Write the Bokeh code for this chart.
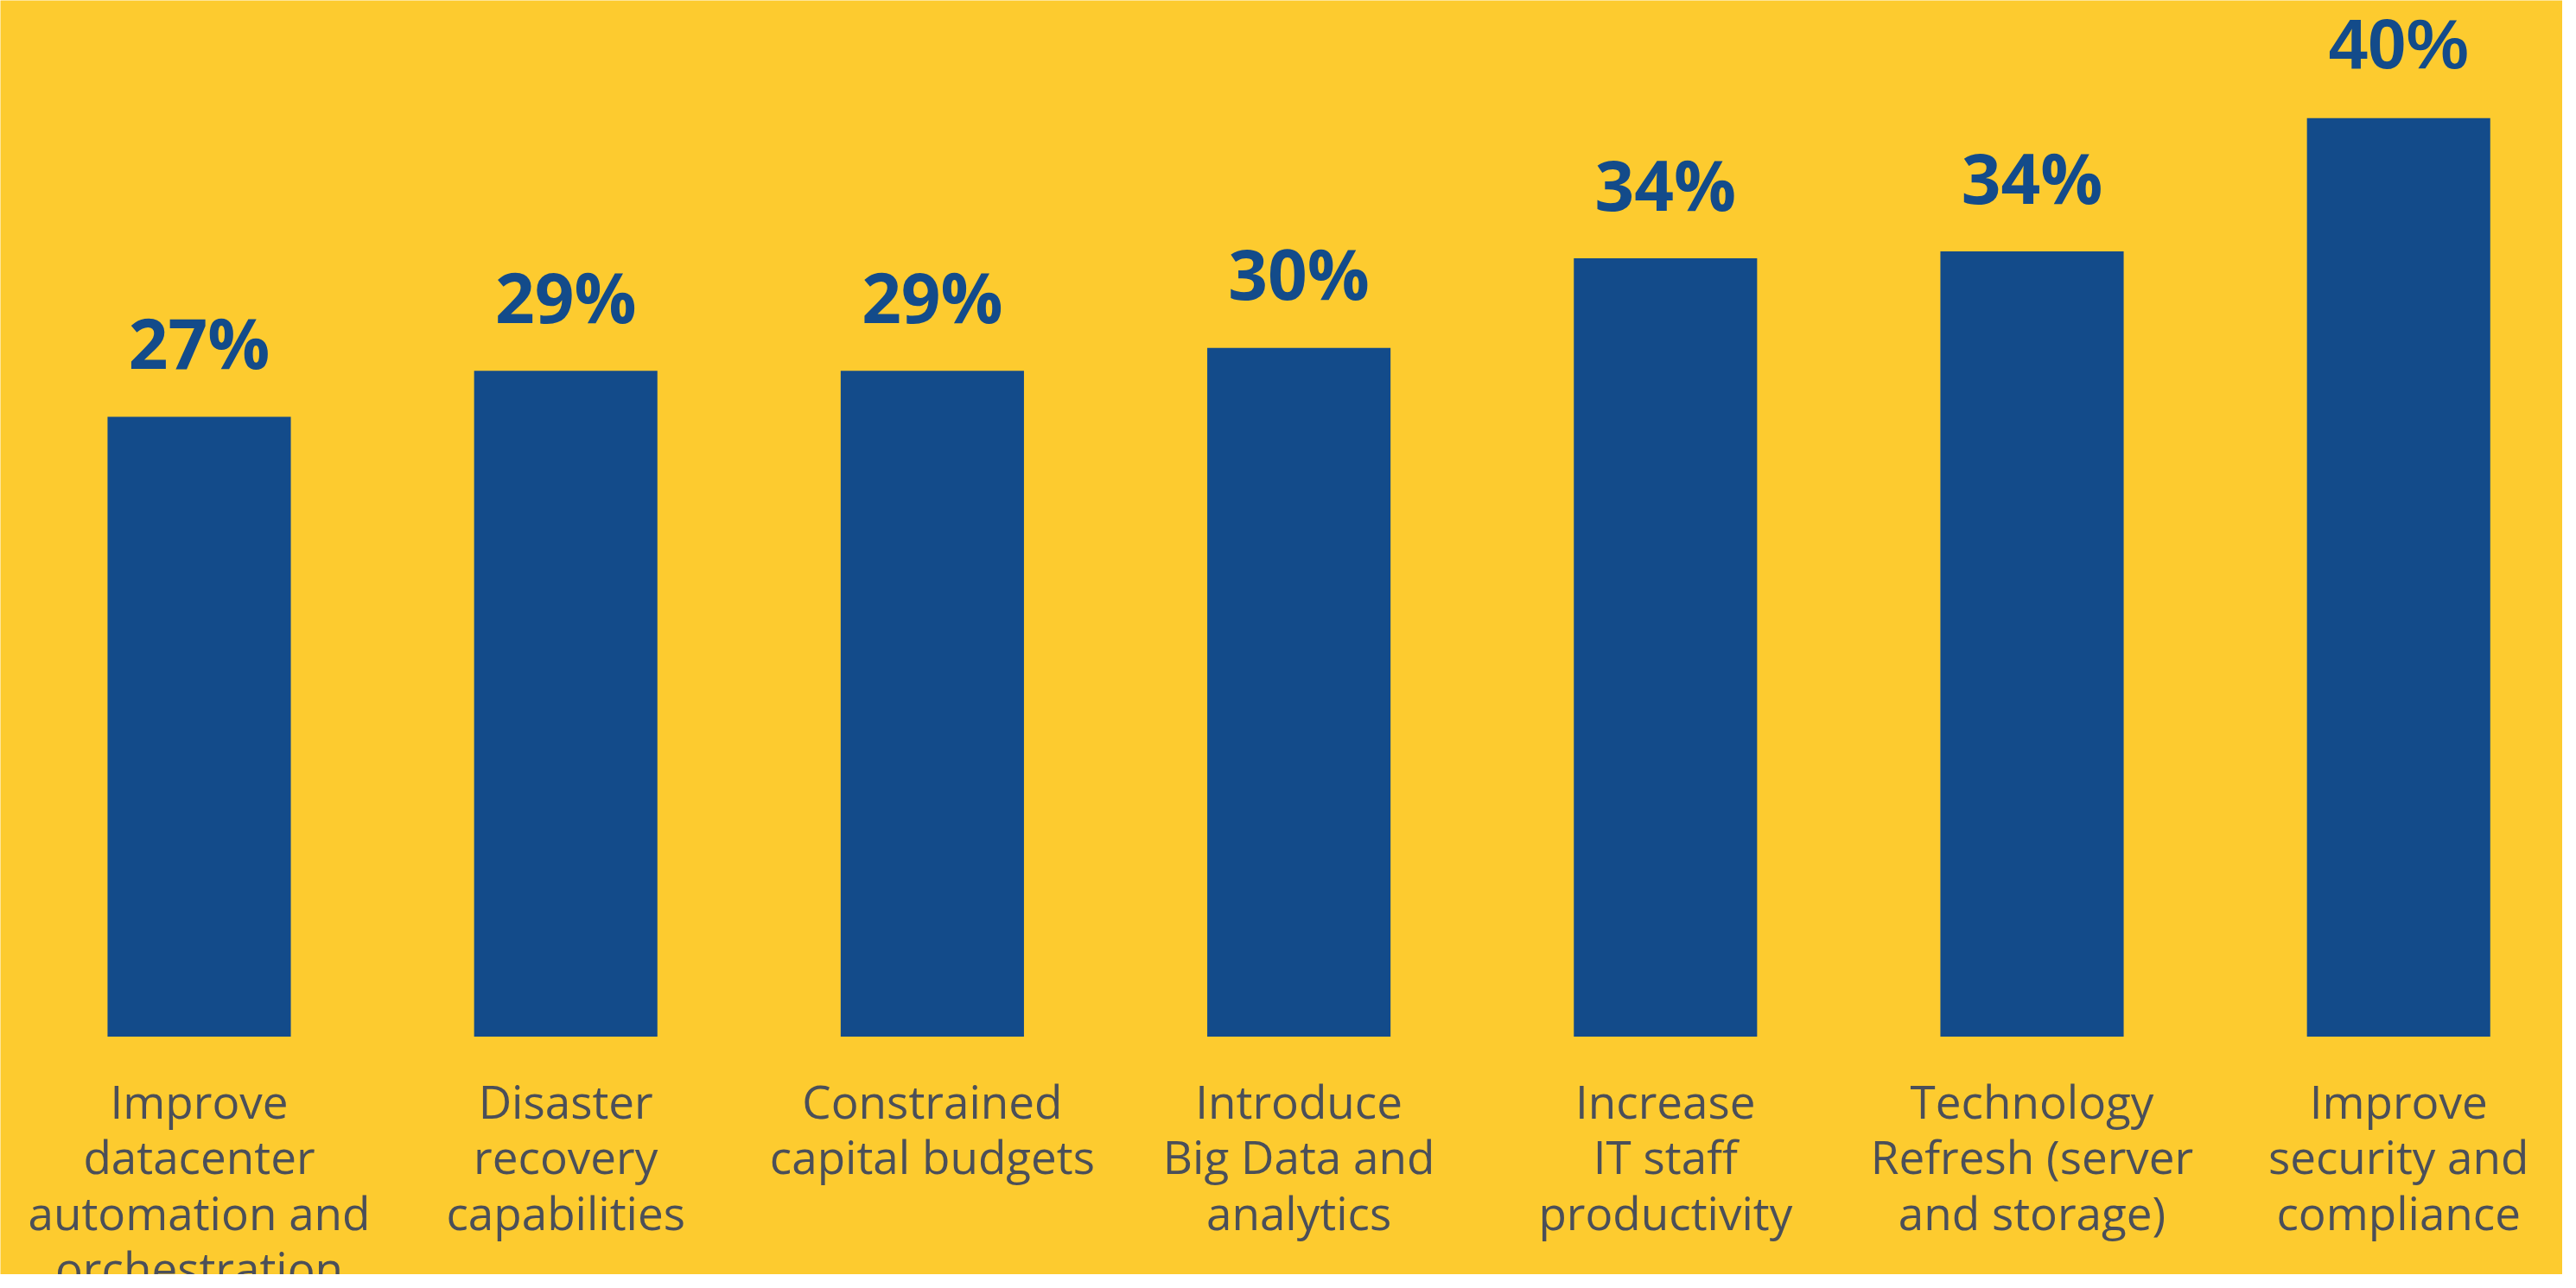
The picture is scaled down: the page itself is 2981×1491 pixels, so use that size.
from bokeh.plotting import figure
from bokeh.models import ColumnDataSource, Range1d, CDSView, IndexFilter
from bokeh.core.properties import value
from bokeh.embed import file_html
from bokeh.resources import INLINE

categories = [
    "Improve\ndatacenter\nautomation and\norchestration",
    "Disaster\nrecovery\ncapabilities",
    "Constrained\ncapital budgets",
    "Introduce\nBig Data and\nanalytics",
    "Increase\nIT staff\nproductivity",
    "Technology\nRefresh (server\nand storage)",
    "Improve\nsecurity and\ncompliance",
]
values = [27, 29, 29, 30, 33.9, 34.2, 40]
value_labels = ["27%", "29%", "29%", "30%", "34%", "34%", "40%"]

BG = "#FDCB2F"
BAR = "#134B8A"
TXT = "#4B4F59"

W, H = 2965, 1475

n = len(categories)
src = ColumnDataSource(dict(
    x=list(range(n)),
    value=values,
    label=value_labels,
    cat=categories,
    zero=[0] * n,
))

p = figure(
    width=W, height=H,
    output_backend="svg", toolbar_location=None,
    x_range=Range1d(-0.5422, 6.4474),
    y_range=Range1d(-10.36, 45.13),
    x_axis_location=None, y_axis_location=None,
    min_border=0,
)
p.background_fill_color = BG
p.border_fill_color = BG
p.outline_line_color = None
p.grid.visible = False

p.vbar(x="x", top="value", bottom=0, width=0.5, source=src,
       fill_color=BAR, line_color=None)

p.text(x="x", y="value", text="label", source=src,
       view=CDSView(filter=IndexFilter(list(range(n - 1)))),
       text_align="center", text_baseline="alphabetic", y_offset=-87,
       text_font=value("Open Sans"), text_font_style="bold",
       text_font_size="80px", text_color=BAR)

p.text(x="x", y="value", text="label", source=src,
       view=CDSView(filter=IndexFilter([n - 1])),
       text_align="center", text_baseline="alphabetic", y_offset=-86,
       text_font=value("Liberation Sans"), text_font_style="bold",
       text_font_size="81px", text_color=BAR)

p.text(x="x", y="zero", text="cat", source=src,
       text_align="center", text_baseline="top", y_offset=38,
       text_font=value("Open Sans"), text_font_size="53px",
       text_line_height=0.88, text_color=TXT)

open("out.html", "w").write(file_html(p, INLINE))
